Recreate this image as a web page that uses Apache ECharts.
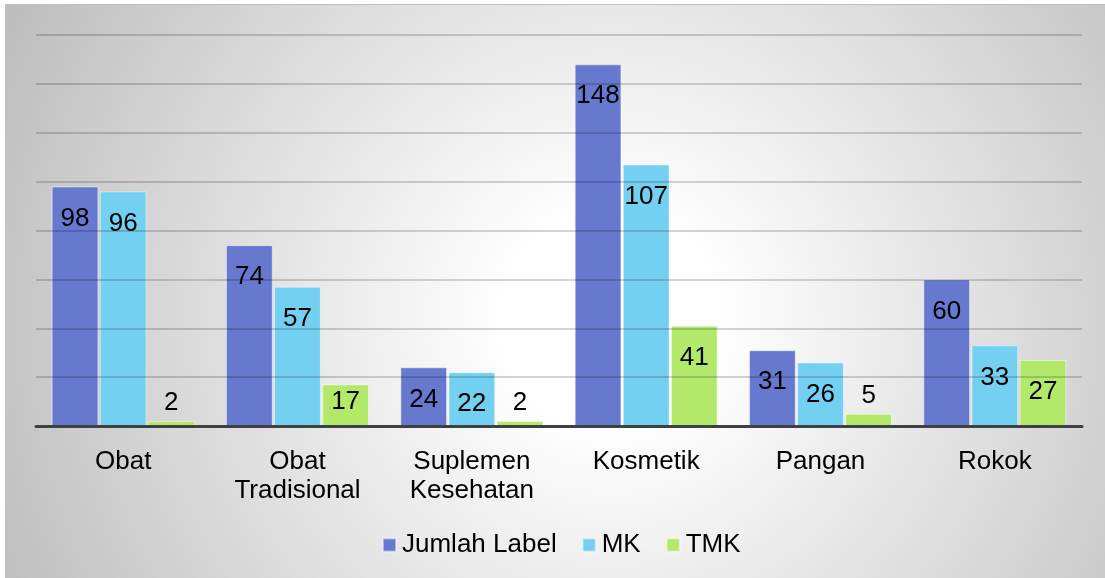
<!DOCTYPE html>
<html>
<head>
<meta charset="utf-8">
<script src="https://cdn.jsdelivr.net/npm/echarts@6/dist/echarts.min.js"></script>
<style>
  html, body { margin: 0; padding: 0; background: #fff; }
  #main {
    position: absolute; left: 5px; top: 4px;
    width: 1100px; height: 574px;
    border-left: 1px solid #bfbfbf; border-top: 1px solid #bfbfbf;
  }
</style>
</head>
<body>
<div id="main"></div>
<script>
  var categories = ['Obat', 'Obat Tradisional', 'Suplemen Kesehatan', 'Kosmetik', 'Pangan', 'Rokok'];
  var jumlahLabel = [98, 74, 24, 148, 31, 60];
  var mk = [96, 57, 22, 107, 26, 33];
  var tmk = [2, 17, 2, 41, 5, 27];

  var font = '"Liberation Sans", Arial, sans-serif';

  // small bars get their label on top, short ones a smaller inset
  function toData(values) {
    return values.map(function (v) {
      if (v < 10) {
        return { value: v, label: { position: 'top', distance: 5 } };
      }
      if (v < 20) {
        return { value: v, label: { distance: 4 } };
      }
      return v;
    });
  }

  function barSeries(name, values, color) {
    return {
      name: name,
      type: 'bar',
      data: toData(values),
      barGap: '3%',
      barCategoryGap: '18%',
      itemStyle: {
        color: color,
        borderColor: 'rgba(255,255,255,0.45)',
        borderWidth: 1
      },
      label: {
        show: true,
        position: 'insideTop',
        distance: 19,
        color: '#000',
        fontSize: 26,
        fontFamily: font
      }
    };
  }

  var chart = echarts.init(document.getElementById('main'));

  chart.setOption({
    animation: false,
    backgroundColor: {
      type: 'radial',
      x: 0.55, y: 0.55, r: 1.2,
      colorStops: [
        { offset: 0, color: '#ffffff' },
        { offset: 0.15, color: '#ffffff' },
        { offset: 1, color: '#bcbcbc' }
      ]
    },
    grid: {
      left: 30,
      top: 30,
      width: 1046,
      height: 391
    },
    legend: {
      left: 371,
      top: 522,
      icon: 'rect',
      itemWidth: 13,
      itemHeight: 13,
      itemGap: 25,
      textStyle: {
        fontSize: 26,
        fontFamily: font,
        color: '#000',
        padding: [0, 0, 0, 1]
      },
      data: ['Jumlah Label', 'MK', 'TMK']
    },
    xAxis: {
      type: 'category',
      data: categories,
      z: 5,
      axisTick: { show: false },
      axisLine: { lineStyle: { color: '#404040', width: 3 } },
      axisLabel: {
        margin: 21,
        fontSize: 26,
        lineHeight: 29,
        fontFamily: font,
        color: '#000',
        formatter: function (v) { return v.replace(' ', '\n'); }
      }
    },
    yAxis: {
      type: 'value',
      min: 0,
      max: 160,
      interval: 20,
      z: 5,
      axisLabel: { show: false },
      axisLine: { show: false },
      axisTick: { show: false },
      splitLine: { lineStyle: { color: 'rgba(0,0,0,0.17)', width: 2 } }
    },
    series: [
      barSeries('Jumlah Label', jumlahLabel, '#6679ce'),
      barSeries('MK', mk, '#73d0f0'),
      barSeries('TMK', tmk, '#b2e96b')
    ]
  });
</script>
</body>
</html>
